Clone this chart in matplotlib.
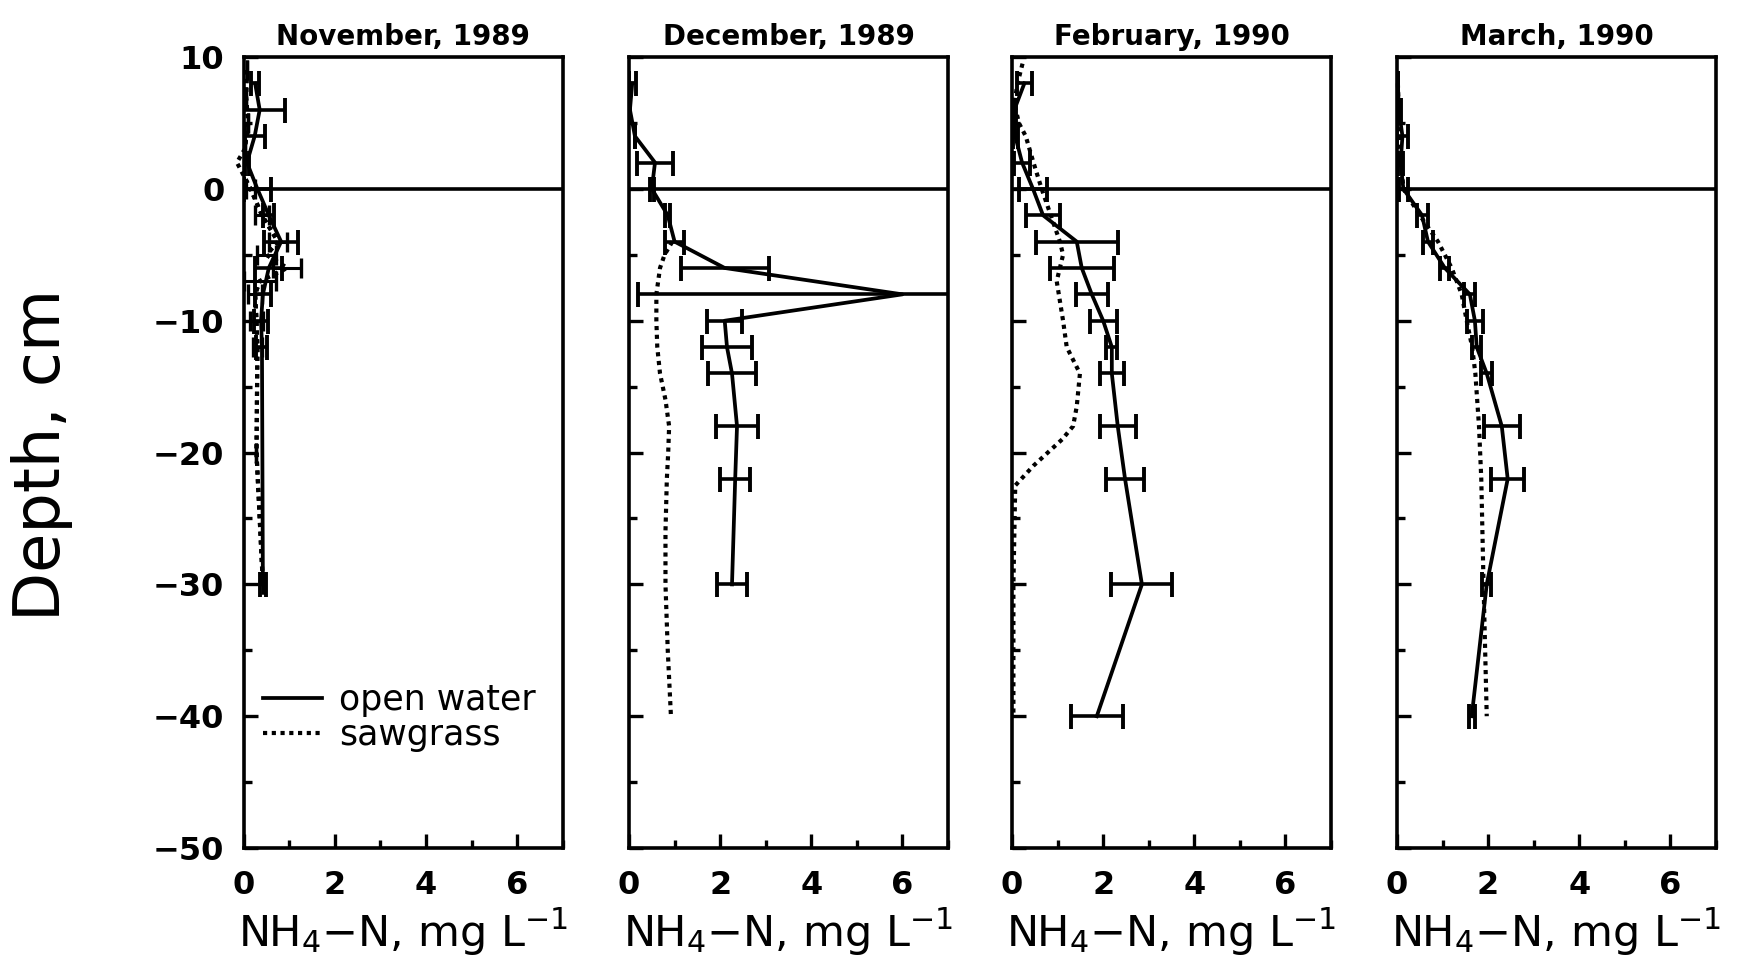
import matplotlib
matplotlib.use("Agg")
import matplotlib.pyplot as plt
from matplotlib.ticker import MultipleLocator
from matplotlib.lines import Line2D

plt.rcParams['font.family'] = ['DejaVu Sans']
plt.rcParams['mathtext.fontset'] = 'dejavusans'

titles = ["November, 1989", "December, 1989", "February, 1990", "March, 1990"]

# open water (solid, with error bars)
nov_ow_depth = [8, 6, 4, 2, 0, -2, -4, -6, -8, -10, -12, -30]
nov_ow_val = [0.25, 0.35, 0.24, 0.07, 0.3, 0.55, 0.82, 0.55, 0.42, 0.38, 0.4, 0.42]
nov_ow_err = [0.08, 0.55, 0.22, 0.05, 0.3, 0.12, 0.38, 0.3, 0.18, 0.15, 0.12, 0.06]

dec_ow_depth = [8, 6, 4, 2, 0, -2, -4, -6, -8, -10, -12, -14, -18, -22, -30]
dec_ow_val = [0.07, 0.02, 0.13, 0.57, 0.5, 0.85, 1.0, 2.1, 6.0, 2.1, 2.15, 2.26, 2.37, 2.33, 2.26]
dec_ow_err = [0.08, 0.0, 0.0, 0.4, 0.05, 0.05, 0.2, 0.97, 5.8, 0.38, 0.55, 0.53, 0.47, 0.33, 0.33]

feb_ow_depth = [8, 6, 4, 2, 0, -2, -4, -6, -8, -10, -12, -14, -18, -22, -30, -40]
feb_ow_val = [0.27, 0.05, 0.07, 0.22, 0.46, 0.68, 1.42, 1.53, 1.75, 2.0, 2.19, 2.19, 2.32, 2.48, 2.85, 1.86]
feb_ow_err = [0.17, 0.03, 0.05, 0.18, 0.3, 0.37, 0.9, 0.7, 0.35, 0.3, 0.12, 0.27, 0.4, 0.42, 0.67, 0.57]

mar_ow_depth = [8, 6, 4, 2, 0, -2, -4, -6, -8, -10, -12, -14, -18, -22, -30, -40]
mar_ow_val = [0.02, 0.04, 0.12, 0.08, 0.14, 0.55, 0.68, 1.05, 1.6, 1.71, 1.75, 1.97, 2.3, 2.43, 1.97, 1.64]
mar_ow_err = [0.0, 0.05, 0.12, 0.05, 0.1, 0.12, 0.1, 0.1, 0.12, 0.17, 0.1, 0.12, 0.4, 0.36, 0.1, 0.07]

# sawgrass (dotted)
nov_sg_depth = [9, 7, 5, 3, 2, 0, -2, -4, -5, -6, -7, -8, -10, -12, -20, -30]
nov_sg_val = [0.07, 0.05, 0.1, 0.02, -0.15, 0.15, 0.4, 0.75, 0.5, 0.95, 0.35, 0.25, 0.28, 0.3, 0.28, 0.42]
nov_sg_err = [0, 0, 0, 0, 0, 0.1, 0.15, 0.2, 0.2, 0.3, 0.35, 0.15, 0.15, 0.1, 0, 0]

dec_sg_depth = [-4, -5, -6, -8, -10, -12, -14, -16, -18, -20, -22, -26, -30, -35, -40]
dec_sg_val = [0.95, 0.78, 0.68, 0.6, 0.6, 0.62, 0.68, 0.8, 0.88, 0.86, 0.83, 0.8, 0.8, 0.85, 0.92]

feb_sg_depth = [9.5, 8, 6.5, 5, 4, 2, 0, -2, -4, -5, -7, -10, -12, -14, -16.5, -18, -19, -21, -22.5, -30, -40]
feb_sg_val = [0.23, 0.12, 0.05, 0.15, 0.3, 0.47, 0.65, 0.85, 1.05, 1.12, 0.98, 1.12, 1.2, 1.49, 1.42, 1.34, 1.1, 0.47, 0.07, 0.03, 0.03]

mar_sg_depth = [8, 4, 0, -2, -4, -6, -8, -10, -12, -14, -18, -22, -30, -40]
mar_sg_val = [0.02, 0.05, 0.14, 0.5, 0.9, 1.2, 1.42, 1.53, 1.65, 1.72, 1.8, 1.85, 1.9, 1.97]

ow = [(nov_ow_depth, nov_ow_val, nov_ow_err),
      (dec_ow_depth, dec_ow_val, dec_ow_err),
      (feb_ow_depth, feb_ow_val, feb_ow_err),
      (mar_ow_depth, mar_ow_val, mar_ow_err)]
sg = [(nov_sg_depth, nov_sg_val, nov_sg_err),
      (dec_sg_depth, dec_sg_val, None),
      (feb_sg_depth, feb_sg_val, None),
      (mar_sg_depth, mar_sg_val, None)]

fig = plt.figure(figsize=(17.41, 9.67), dpi=100)

lefts = [0.140, 0.3613, 0.5813, 0.8024]
dots = (0, (1.0, 1.1))

for i in range(4):
    ax = fig.add_axes([lefts[i], 0.123, 0.1832, 0.818])
    d, v, e = ow[i]
    ax.errorbar(v, d, xerr=e, color='k', lw=2.7, capsize=9, capthick=2.8,
                elinewidth=2.6)
    d2, v2, e2 = sg[i]
    if e2 is not None:
        ax.errorbar(v2, d2, xerr=e2, color='k', lw=3.0, ls=dots, capsize=7,
                    capthick=2.4, elinewidth=2.2)
    # sawgrass curve may poke past the left axis
    ax.plot(v2, d2, color='k', lw=3.0, ls=dots, clip_on=False)
    ax.axhline(0, color='k', lw=2.6)

    ax.set_xlim(0, 7)
    ax.set_ylim(-50, 10)
    ax.xaxis.set_major_locator(MultipleLocator(2))
    ax.xaxis.set_minor_locator(MultipleLocator(1))
    ax.yaxis.set_major_locator(MultipleLocator(10))
    ax.yaxis.set_minor_locator(MultipleLocator(5))
    ax.tick_params(which='both', direction='in', top=False, right=False, width=2.4)
    ax.tick_params(which='major', length=10)
    ax.tick_params(which='minor', length=6)
    ax.tick_params(axis='x', labelsize=23, pad=16)
    ax.tick_params(axis='y', labelsize=23, pad=14)
    for lab in ax.get_xticklabels() + ax.get_yticklabels():
        lab.set_fontweight('bold')
    if i > 0:
        ax.set_yticklabels([])
    for s in ax.spines.values():
        s.set_linewidth(2.6)
    ax.set_title(titles[i], fontsize=20, fontweight='bold', pad=9)
    ax.set_xlabel(r'NH$_4$$-$N, mg L$^{-1}$', fontsize=31, labelpad=4)

    if i == 0:
        handles = [Line2D([], [], color='k', lw=2.7),
                   Line2D([], [], color='k', lw=3.0, ls=dots)]
        ax.legend(handles, ['open water', 'sawgrass'], loc='center left',
                  bbox_to_anchor=(0.06, 0.165), frameon=False, fontsize=25,
                  handlelength=1.7, handletextpad=0.5, labelspacing=0.05,
                  borderpad=0, borderaxespad=0)

fig.text(0.024, 0.53, 'Depth, cm', rotation=90, fontsize=46, ha='center', va='center')

fig.savefig('out.png', dpi=100)
